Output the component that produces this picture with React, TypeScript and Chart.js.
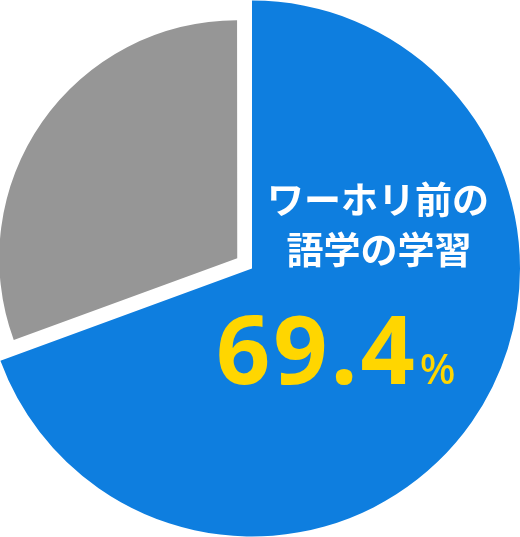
import React, { useEffect, useRef } from "react";
import { Chart, registerables } from "chart.js";

Chart.register(...registerables);

const labels = ["ワーホリ前の語学の学習", "その他"];
const values = [69.4, 30.6];
const colors = ["#0e7edf", "#969696"];
const offsets = [0, 72];
const radiusRatios = [1, 0.884];
const titleLines = ["ワーホリ前の", "語学の学習"];
const percentText = "69.4";
const percentSign = "%";

const shrinkPlugin = {
  id: "shrink",
  beforeDatasetsDraw(chart: any) {
    const meta = chart.getDatasetMeta(0);
    const base = meta.data[0].outerRadius;
    meta.data.forEach((arc: any, i: number) => {
      arc.outerRadius = base * radiusRatios[i];
    });
  },
};

const labelPlugin = {
  id: "centerLabel",
  afterDraw(chart: any) {
    const ctx = chart.ctx;
    const arc = chart.getDatasetMeta(0).data[0];
    const cx = arc.x;
    const cy = arc.y;
    ctx.save();
    ctx.fillStyle = "#ffffff";
    ctx.textAlign = "center";
    ctx.textBaseline = "middle";
    ctx.font = "bold 37px 'Noto Sans CJK JP'";
    ctx.fillText(titleLines[0], cx + 126, cy - 69);
    ctx.fillText(titleLines[1], cx + 127, cy - 19);
    ctx.fillStyle = "#ffd600";
    ctx.textBaseline = "alphabetic";
    ctx.textAlign = "left";
    ctx.font = "bold 95px 'Noto Sans'";
    (ctx as any).letterSpacing = "3px";
    ctx.fillText(percentText, cx - 36, cy + 115);
    const w = ctx.measureText(percentText).width;
    (ctx as any).letterSpacing = "0px";
    ctx.font = "500 42px 'Noto Sans'";
    ctx.fillText(percentSign, cx - 36 + w + 2, cy + 115);
    ctx.restore();
  },
};

export default function App() {
  const ref = useRef<HTMLCanvasElement>(null);
  useEffect(() => {
    document.body.style.margin = "0";
    const chart = new Chart(ref.current!, {
      type: "pie",
      data: {
        labels,
        datasets: [
          {
            data: values,
            backgroundColor: colors,
            borderWidth: 0,
            offset: offsets,
            hoverOffset: 0,
          },
        ],
      },
      options: {
        animation: false,
        responsive: false,
        radius: 268,
        layout: { padding: { right: 16 } },
        plugins: { legend: { display: false }, tooltip: { enabled: false } },
        events: [],
      },
      plugins: [shrinkPlugin, labelPlugin],
    });
    return () => chart.destroy();
  }, []);
  return (
    <div style={{ position: "absolute", left: 0, top: 0, width: 520, height: 537 }}>
      <canvas ref={ref} width={520} height={537} />
    </div>
  );
}
